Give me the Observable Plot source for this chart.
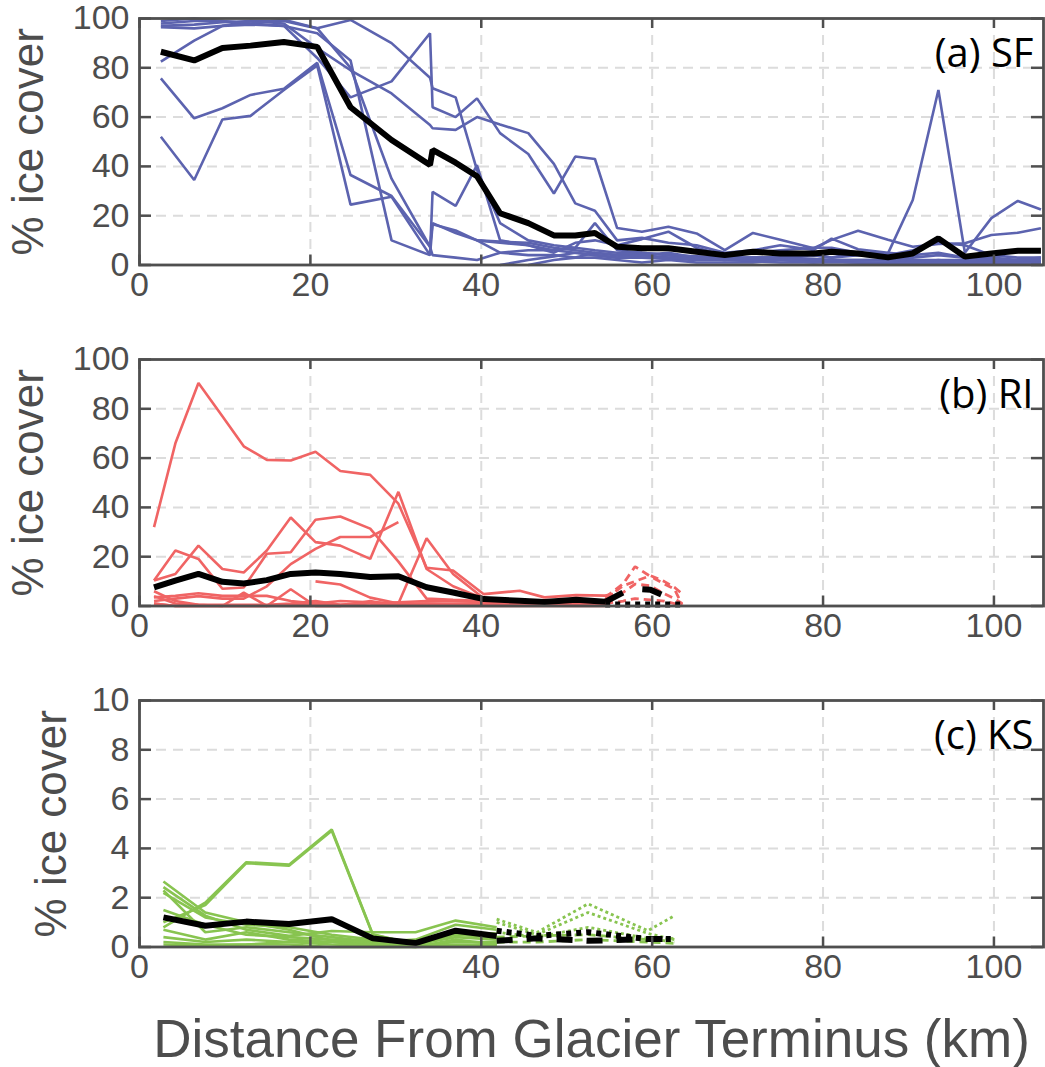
<!DOCTYPE html>
<html><head><meta charset="utf-8">
<script src="https://cdn.jsdelivr.net/npm/d3@7"></script>
<script src="https://cdn.jsdelivr.net/npm/@observablehq/plot@0.6"></script>
<style>
body{margin:0;background:#fff;}
#chart svg{display:block;}
</style></head><body><div id="chart"></div>
<script>
// ---------- shared axes ----------
const xTicks = [0, 20, 40, 60, 80, 100];
const yTicksAB = [0, 20, 40, 60, 80, 100];
const yTicksC = [0, 2, 4, 6, 8, 10];
const panelLabels = ["(a) SF", "(b) RI", "(c) KS"];
const yTitle = "% ice cover";
const xTitle = "Distance From Glacier Terminus (km)";

// ---------- panel (a) SF ----------
const xSF = [2.5, 6.4, 9.7, 13, 16.9, 20.8, 24.7, 29.5, 34, 34.3, 37, 39.5, 42.2, 45.5, 48.5, 51, 53.3, 55.9, 58.8, 61.9, 65.2, 68.5, 71.8, 75, 78.9, 81, 84.1, 87.6, 90.5, 93.5, 96.6, 99.7, 102.8, 105.5];
const sf1 = [52, 34.5, 59, 60.5, 71, 81, 24.5, 27.7, 4, 29.7, 24, 40.5, 10, 8, 6, 5, 4, 3, 3, 2.5, 2, 2, 1.5, 1, 1, 1.5, 1, 1, 1, 1, 1, 0.5, 1, 1];
const sf2 = [75.7, 59.5, 63.6, 69, 71.5, 82, 36.5, 28, 7.4, 17, 13, 10, 9.5, 9, 7, 6, 5, 4, 4, 3, 2.5, 2, 2, 2, 1.5, 1.5, 1, 1, 1, 1, 1, 1, 1, 1];
const sf3 = [82.5, 91, 97, 99, 99, 96, 99.4, 90, 76, 71.7, 68, 38.5, 17, 10, 8, 7, 6, 5, 5, 4, 3.5, 3, 3, 3, 2.5, 2, 2, 2, 2, 2, 2, 1.5, 1.5, 1.5];
const sf4 = [98, 99, 99, 98, 97, 84, 68, 74.5, 94, 64, 60, 67.6, 53.5, 45, 29, 44, 43, 15, 13.5, 15.5, 12.8, 6, 13, 10.2, 6.8, 10.2, 13.9, 10.2, 7.4, 8.5, 8.8, 12.2, 13.1, 14.9];
const sf5 = [97, 97.5, 98.5, 99, 98, 88, 79, 69.6, 56.8, 55.5, 54.8, 60, 57, 53.5, 41, 25, 22, 10, 11, 9, 8, 5, 6, 5, 4, 3, 4, 3, 3, 4, 3, 3, 2, 2];
const sf6 = [99, 100, 99, 98, 99.5, 96, 80, 35, 7.4, 4, 3, 2, 5, 6, 6, 7, 17, 6, 5, 4, 3, 3, 3, 3, 2, 2, 2, 2, 1, 1, 1, 1, 1, 1];
const sf7 = [96.5, 96, 97, 97.5, 97, 94, 83, 10, 4, 16.5, 14, 10, 5, 4, 4, 3, 5, 4, 3, 3, 3, 2, 3, 3, 4, 3, 5, 4.7, 26.4, 71, 5, 19, 26, 22.5];
const sf8 = [null, null, null, null, null, null, null, null, null, null, null, null, 0, 2, 3.5, 5, 4, 3, 4, 5, 3, 2, 6, 8, 6.1, 10.7, 6.4, 5, 4, 5, 3, 2, 2, 3];
const sf9 = [null, null, null, null, null, null, null, null, null, null, null, null, null, 0, 2, 3, 3, 2, 1, 2, 1, 1, 1, 2, 1, 1, 1, 0.5, 1, 2, 1, 1, 1, 0.5];
const sf10 = [null, null, null, null, null, null, null, null, null, null, null, 10, 9, 8, 5, 9, 10, 8, 10.5, 13.5, 7, 4, 5, 6, 7, 7, 5, 4, 6, 9, 8, 4, 3, 3];
const sfMean = [86.5, 83, 88, 89, 90.5, 88.5, 64, 50.7, 40.6, 46.7, 41.5, 36, 21, 17, 12, 12, 13, 7.4, 6.8, 6.8, 5.4, 4, 5.4, 4.7, 4.7, 5.4, 4.7, 3.1, 4.7, 10.8, 3.4, 4.7, 5.8, 5.8];

// ---------- panel (b) RI ----------
const xRI = [1.7, 4.2, 6.9, 9.7, 12.2, 14.9, 17.7, 20.6, 23.5, 27, 30.3, 33.6, 36.7, 40.3, 44.5, 47.4, 51.1, 54.5];
const ri1 = [32, 66, 90.5, 77, 64.8, 59.3, 59, 62.6, 54.8, 53.2, 41.5, 15.5, 14.4, 4.8, 6.2, 3.5, 4.4, 4.2];
const ri2 = [10.3, 22.5, 19.1, 7, 7.5, 21.2, 21.8, 35, 36.3, 31.4, 18, 3, 2.5, 2, 1.5, 1, 1, 0.5];
const ri3 = [10.3, 13, 24.5, 15, 13.6, 22.5, 35.9, 25.9, 24.5, 19.1, 46.3, 15, 8, 3, 2, 1, 1, 0.5];
const ri4 = [2, 3, 4, 3, 3, 8, 17, 23.2, 28, 28, 34, null, null, null, null, null, null, null];
const ri5 = [3.5, 4.1, 5.2, 4.1, 4.1, 4.1, 2, 1, 2, 1.5, 1, 1, 0.5, 0.5, 0.3, 0.3, 0.3, 0.3];
const ri6 = [null, null, null, null, null, null, null, 10, 8.7, 3.4, 1, null, null, null, null, null, null, null];
const ri7 = [1, 0, 0, 0, 5.4, 0, 6.8, 0, 0, 2, 0, null, null, null, null, null, null, null];
const ri8 = [null, null, null, null, null, null, null, null, null, 0.5, 1, 27.5, 13, 3, 2, 2, 1.5, 1.5];
const ri9 = [6, 2, 0.5, 0, 0, 0, 0.5, 1, 0.5, 1, 1.5, 2, 2, 1.5, 1, 1, 1.5, 1];
const ri10 = [4, 1, 0.5, 0.5, 0.5, 0.5, 1, 2, 0.5, 1.5, 0.5, 1, 1, 1, 0.5, 0.5, 0.5, 0.5];
const ri11 = [1, 0, 0, 0, 0, 0, 0, 0, 0, 0, 0, 0, 0, 0, 0, 0, 0, 0];
const riMean = [7.6, 10.3, 13, 9.8, 9.1, 10.5, 13, 13.6, 13, 11.8, 12.1, 7.6, 5.5, 2.8, 2.1, 1.6, 2.5, 1.7];
// later (dashed / dotted) section
const xRIb = [54.5, 56.6, 58, 59.8, 61.4, 62.6, 63.5];
const rid1 = [3.5, 9, 16, 12, 9, 6.9, 0.5];
const rid2 = [2.7, 8.2, 10, 12.3, 10, 7.6, 5];
const rid3 = [4.2, 5.5, 8.9, 8.2, 5, 3, 1];
const rid4 = [1, 2, 3, 2.5, 2, 1, 0];
const riMeanDash = [1.7, 5.5, 7, 6.6, 4.2, null, null];
const riMeanDot = [0.6, 0.6, 0.6, 0.6, 0.6, 0.6, 0.6];

// ---------- panel (c) KS ----------
const xKS = [2.8, 7.7, 12.5, 17.5, 22.5, 27.3, 32.3, 37, 41.8];
const ks1 = [0.8, 1.8, 3.44, 3.34, 4.77, 0.52, 0.1, 0.65, 0.5];
const ks2 = [1.0, 1.7, 3.4, 3.3, 4.72, 0.5, 0.12, 0.6, 0.55];
const ks3 = [2.66, 1.4, 1.0, 0.7, 0.25, 0.3, 0.1, 0.5, 0.4];
const ks4 = [2.43, 1.27, 0.7, 0.45, 0.65, 0.6, 0.6, 1.07, 0.8];
const ks5 = [2.3, 0.6, 0.8, 0.6, 0.4, 0.2, 0.3, 0.9, 0.7];
const ks6 = [2.2, 1.2, 0.9, 0.8, 0.5, 0.3, 0.1, 0.4, 0.3];
const ks7 = [1.5, 0.9, 0.5, 0.4, 0.3, 0.15, 0.05, 0.2, 0.2];
const ks8 = [0.7, 0.3, 0.6, 0.3, 0.2, 0.1, 0, 0.3, 0.1];
const ks9 = [0.4, 0.2, 0.3, 0.2, 0.1, 0.05, 0.05, 0.1, 0.1];
const ks10 = [0.2, 0.1, 0.1, 0.1, 0, 0, 0, 0.05, 0.1];
const ks11 = [0.1, 0.05, 0.1, 0.2, 0.2, 0.05, 0.05, 0.05, 0.05];
const ksMean = [1.2, 0.86, 1.03, 0.93, 1.13, 0.35, 0.16, 0.66, 0.45];
const xKSb = [41.8, 46.5, 52.5, 59.5, 62.6];
const kd1 = [1.13, 0.59, 1.75, 0.66, 1.27];
const kd2 = [1.0, 0.5, 1.4, 0.55, 0.3];
const kd3 = [0.6, 0.4, 0.8, 0.35, 0.2];
const kd4 = [0.4, 0.45, 0.5, 0.3, 0.35];
const kd5 = [0.2, 0.2, 0.3, 0.2, 0.15];
const ksMeanDot = [0.66, 0.45, 0.6, 0.32, 0.32];
const ksMeanDash = [0.25, 0.35, 0.25, 0.32, 0.32];

// ---------- styling ----------
const W = 1045, ML = 139, MR = 2, MT = 18, PH = 246.5;
const PW = W - ML - MR;
const XMAX = 105.8;
const axisColor = "#4f4f4f";
const textColor = "#4d4d4d";
const gridStyle = {stroke: "#dcdcdc", strokeOpacity: 1, strokeWidth: 2, strokeDasharray: "10,7"};
const BLUE = "#5c63af", RED = "#f06464", GREEN = "#88c450";

function rows(xs, series, prefix) {
  const out = [];
  series.forEach((ys, i) => ys.forEach((y, j) => out.push({x: xs[j], y: y, s: prefix + i})));
  return out;
}

function panel({height, yMax, yTicks, marks, label, yDx, extra = []}) {
  return Plot.plot({
    width: W, height,
    marginLeft: ML, marginRight: MR, marginTop: MT, marginBottom: height - MT - PH,
    x: {domain: [0, XMAX]},
    y: {domain: [0, yMax]},
    style: {fontFamily: "'Liberation Sans', Arial, sans-serif", fontSize: "34px", color: textColor, background: "white", overflow: "visible"},
    marks: [
      Plot.gridX(xTicks.filter(d => d > 0 && d < XMAX), gridStyle),
      Plot.gridY(yTicks.filter(d => d > 0 && d < yMax), gridStyle),
      ...marks,
      Plot.tickY(yTicks, {stroke: axisColor, strokeWidth: 2.5, insetRight: PW - 12}),
      Plot.tickY(yTicks, {stroke: axisColor, strokeWidth: 2.5, insetLeft: PW - 12}),
      Plot.tickX(xTicks, {stroke: axisColor, strokeWidth: 2.5, insetTop: PH - 10}),
      Plot.tickX(xTicks, {stroke: axisColor, strokeWidth: 2.5, insetBottom: PH - 10}),
      Plot.frame({stroke: axisColor, strokeWidth: 2.8}),
      Plot.axisX({ticks: xTicks, tickSize: 0, tickPadding: 7, label: null, fontSize: 34, fill: textColor}),
      Plot.axisY({ticks: yTicks, tickSize: 0, tickPadding: 10, label: null, fontSize: 34, fill: textColor}),
      Plot.text([label], {frameAnchor: "top-right", textAnchor: "end", lineAnchor: "bottom", dx: -10, dy: 48, fontSize: 40, fontFamily: "'Open Sans', sans-serif", fill: "black"}),
      Plot.text([yTitle], {frameAnchor: "left", textAnchor: "middle", lineAnchor: "middle", rotate: -90, dx: yDx, fontSize: 44, fill: textColor}),
      ...extra
    ]
  });
}

function line(data, stroke, w, dash) {
  return Plot.line(data, {x: "x", y: "y", z: "s", stroke, strokeWidth: w, strokeDasharray: dash, strokeLinejoin: "miter", strokeLinecap: "butt"});
}

const chart = document.getElementById("chart");

chart.append(panel({
  height: 341, yMax: 100, yTicks: yTicksAB, label: panelLabels[0], yDx: -111,
  marks: [
    line(rows(xSF, [sf1, sf2, sf3, sf4, sf5, sf6, sf7, sf8, sf9, sf10], "a"), BLUE, 2.6),
    line(rows(xSF, [sfMean], "m"), "black", 6)
  ]
}));

chart.append(panel({
  height: 341, yMax: 100, yTicks: yTicksAB, label: panelLabels[1], yDx: -111,
  marks: [
    line(rows(xRI, [ri1, ri2, ri3, ri4, ri5, ri6, ri7, ri8, ri9, ri10, ri11], "b"), RED, 2.6),
    line(rows(xRIb, [rid1, rid2, rid3, rid4], "d"), RED, 2.8, "8,5"),
    line(rows(xRI, [riMean], "m"), "black", 6),
    line(rows(xRIb, [riMeanDash], "md"), "black", 6, "20,20"),
    line(rows(xRIb, [riMeanDot], "mt"), "black", 6, "5,5")
  ]
}));

chart.append(panel({
  height: 385, yMax: 10, yTicks: yTicksC, label: panelLabels[2], yDx: -88,
  marks: [
    line(rows(xKS, [ks1, ks2, ks3, ks4, ks5, ks6, ks7, ks8, ks9, ks10, ks11], "c"), GREEN, 2.6),
    line(rows(xKSb, [kd1, kd2, kd3], "d"), GREEN, 2.8, "3,3"),
    line(rows(xKSb, [kd4, kd5], "e"), GREEN, 2.8, "8,5"),
    line(rows(xKS, [ksMean], "m"), "black", 6),
    line(rows(xKSb, [ksMeanDot], "mt"), "black", 6, "5,5"),
    line(rows(xKSb, [ksMeanDash], "md"), "black", 6, "16,14")
  ],
  extra: [
    Plot.text([xTitle], {frameAnchor: "bottom", lineAnchor: "bottom", dy: 110, fontSize: 53, fill: textColor})
  ]
}));
</script>
</body></html>
